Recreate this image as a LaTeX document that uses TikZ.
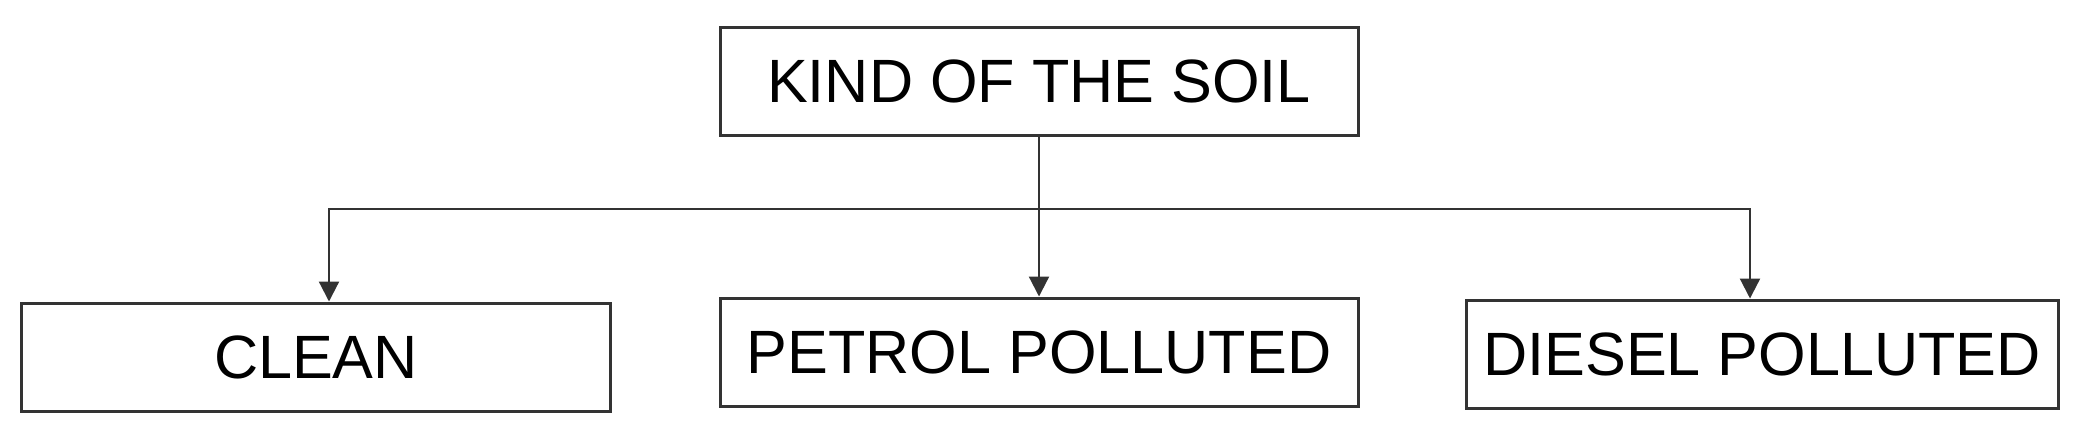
\documentclass[tikz,border=0pt]{standalone}
\usepackage{fontspec}
\setmainfont{Liberation Sans}
\usetikzlibrary{arrows.meta}

\begin{document}
\begin{tikzpicture}[x=0.1mm,y=-0.1mm]
\tikzstyle{every node}+=[inner sep=0pt]
\tikzstyle{kindbox}=[draw=black!80, line width=0.3mm, minimum height=10.8mm, font=\fontsize{17.4pt}{20pt}\selectfont]
\tikzstyle{branch}=[black!80, line width=0.22mm, -{Triangle[length=2mm,width=2mm]}]
\useasboundingbox (0,0) rectangle (2082,435);
\node [kindbox, minimum width=63.8mm] (soil) at (1039,81) {KIND OF THE SOIL};
\node [kindbox, minimum width=58.9mm] (clean) at (316,357) {CLEAN};
\node [kindbox, minimum width=63.8mm] (petrol) at (1039,352) {PETROL POLLUTED};
\node [kindbox, minimum width=59.2mm] (diesel) at (1762,354) {DIESEL POLLUTED};
\coordinate (bus) at (1039,209);
\draw [black!80, line width=0.22mm] (soil.south) -- (bus);
\draw [branch] (bus) -| ([xshift=1.3mm]clean.north);
\draw [branch] (bus) -- (petrol.north);
\draw [branch] (bus) -| ([xshift=-1.2mm]diesel.north);
\end{tikzpicture}
\end{document}
